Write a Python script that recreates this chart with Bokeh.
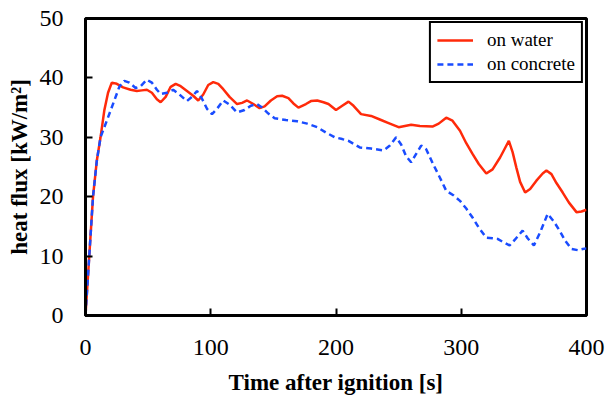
from bokeh.plotting import figure
from bokeh.models import FixedTicker, Range1d, Legend, LegendItem
from bokeh.embed import file_html
from bokeh.resources import INLINE

# ---- data ----
water_t = [0, 3, 6, 9, 12, 15, 18, 21, 25, 30, 36, 41, 45, 49, 53, 57, 60, 64, 68, 72,
           76, 81, 86, 90, 94, 98, 102, 106, 110, 115, 121, 125, 129, 134, 139, 143, 148,
           153, 157, 162, 166, 170, 176, 180, 185, 190, 194, 200, 205, 210, 214, 220, 228,
           235, 242, 250, 255, 260, 267, 277, 282, 288, 293, 299, 304, 309, 314, 320, 325,
           331, 335, 338, 341, 344, 347, 351, 355, 360, 365, 368, 372, 376, 381, 386, 392,
           396, 400]
water_q = [0, 10, 20, 26, 30, 34.5, 37.5, 39.2, 39.0, 38.4, 38.0, 37.8, 37.9, 38.0, 37.5,
           36.4, 35.9, 36.8, 38.5, 39.0, 38.6, 37.8, 37.0, 36.2, 37.2, 38.8, 39.3, 39.0,
           38.1, 36.8, 35.6, 35.8, 36.2, 35.6, 34.9, 35.2, 36.2, 36.9, 37.0, 36.6, 35.7,
           35.0, 35.6, 36.1, 36.2, 35.9, 35.6, 34.6, 35.3, 36.0, 35.3, 33.9, 33.6, 33.0,
           32.4, 31.7, 31.9, 32.1, 31.9, 31.8, 32.3, 33.3, 32.8, 31.1, 29.0, 27.2, 25.5,
           23.9, 24.6, 26.6, 28.2, 29.4, 27.5, 24.9, 22.5, 20.7, 21.3, 22.7, 23.9, 24.4,
           23.8, 22.3, 20.7, 19.0, 17.4, 17.5, 17.8]

concrete_t = [0, 3, 6, 9, 12, 17, 20, 23, 27, 31, 35, 40, 44, 49, 53, 57, 60, 65, 70, 75,
              81, 85, 89, 93, 97, 101, 105, 110, 115, 121, 127, 132, 137, 141, 146, 151,
              160, 169, 177, 185, 192, 199, 205, 210, 215, 219, 228, 238, 243, 248, 252,
              256, 260, 264, 268, 272, 277.5, 283, 288, 294, 299, 304, 309, 314, 320, 325,
              329, 334, 338.6, 343, 349, 353, 358, 363, 369, 374, 378.5, 383, 388, 393,
              397, 400]
concrete_q = [0, 10, 20, 26, 30, 32.8, 34.5, 36.2, 38.5, 39.5, 39.2, 38.3, 38.6, 39.7, 39.2,
              38.0, 37.3, 37.5, 38.0, 37.2, 36.1, 36.8, 37.8, 36.5, 34.8, 33.9, 34.8, 36.2,
              35.5, 34.2, 34.6, 35.3, 35.6, 35.0, 34.0, 33.2, 32.9, 32.7, 32.3, 31.7, 30.8,
              30.0, 29.7, 29.4, 28.8, 28.3, 28.1, 27.8, 28.6, 30.0, 28.8, 26.8, 25.8, 27.2,
              28.6, 28.0, 25.5, 23.2, 21.0, 20.2, 19.3, 18.0, 16.5, 14.8, 13.1, 13.0, 12.9,
              12.3, 11.8, 12.8, 14.3, 13.0, 11.8, 14.0, 17.1, 15.8, 14.3, 12.6, 11.2, 11.0,
              11.2, 11.3]

x_ticks = [0, 100, 200, 300, 400]
y_ticks = [0, 10, 20, 30, 40, 50]
series_labels = ["on water", "on concrete"]
x_title = "Time after ignition [s]"
y_title = "heat flux [kW/m\u00b2]"

FONT = "Liberation Serif"
RED = "#ff2a0a"
BLUE = "#1a4cff"

p = figure(width=607, height=397, output_backend="svg", toolbar_location=None,
           x_range=Range1d(0, 400), y_range=Range1d(0, 50),
           min_border_left=85, min_border_right=21, min_border_top=18, min_border_bottom=82)
p.background_fill_color = "white"
p.border_fill_color = "white"
p.grid.visible = False
p.outline_line_color = "black"
p.outline_line_width = 3
p.outline_line_alpha = 1

r1 = p.line(water_t, water_q, line_color=RED, line_width=2.5)
r2 = p.line(concrete_t, concrete_q, line_color=BLUE, line_width=2.5, line_dash="6 4")

for ax in (p.xaxis[0], p.yaxis[0]):
    ax.axis_line_width = 3
    ax.axis_line_color = "black"
    ax.major_tick_in = 7
    ax.major_tick_out = 0
    ax.major_tick_line_width = 2
    ax.minor_tick_line_color = None
    ax.major_label_text_font = FONT
    ax.major_label_text_font_size = "24px"
    ax.major_label_text_color = "black"
    ax.axis_label_text_font = FONT
    ax.axis_label_text_font_size = "23px"
    ax.axis_label_text_font_style = "bold"
    ax.axis_label_text_color = "black"

p.xaxis[0].ticker = FixedTicker(ticks=x_ticks)
p.yaxis[0].ticker = FixedTicker(ticks=y_ticks)
p.xaxis[0].axis_label = x_title
p.yaxis[0].axis_label = y_title
p.xaxis[0].major_label_standoff = 24
p.xaxis[0].axis_label_standoff = 12
p.yaxis[0].major_label_standoff = 22
p.yaxis[0].axis_label_standoff = 5

legend = Legend(items=[LegendItem(label=series_labels[0], renderers=[r1]),
                       LegendItem(label=series_labels[1], renderers=[r2])],
                location="top_right")
legend.margin = 3
legend.padding = 6
legend.spacing = 2
legend.glyph_width = 36
legend.glyph_height = 18
legend.label_height = 18
legend.label_standoff = 14
legend.label_text_font = FONT
legend.label_text_font_size = "19px"
legend.label_text_color = "black"
legend.border_line_color = "black"
legend.border_line_width = 2
legend.border_line_alpha = 1
legend.background_fill_color = "white"
legend.background_fill_alpha = 1
p.add_layout(legend)

open("out.html", "w").write(file_html(p, INLINE))
